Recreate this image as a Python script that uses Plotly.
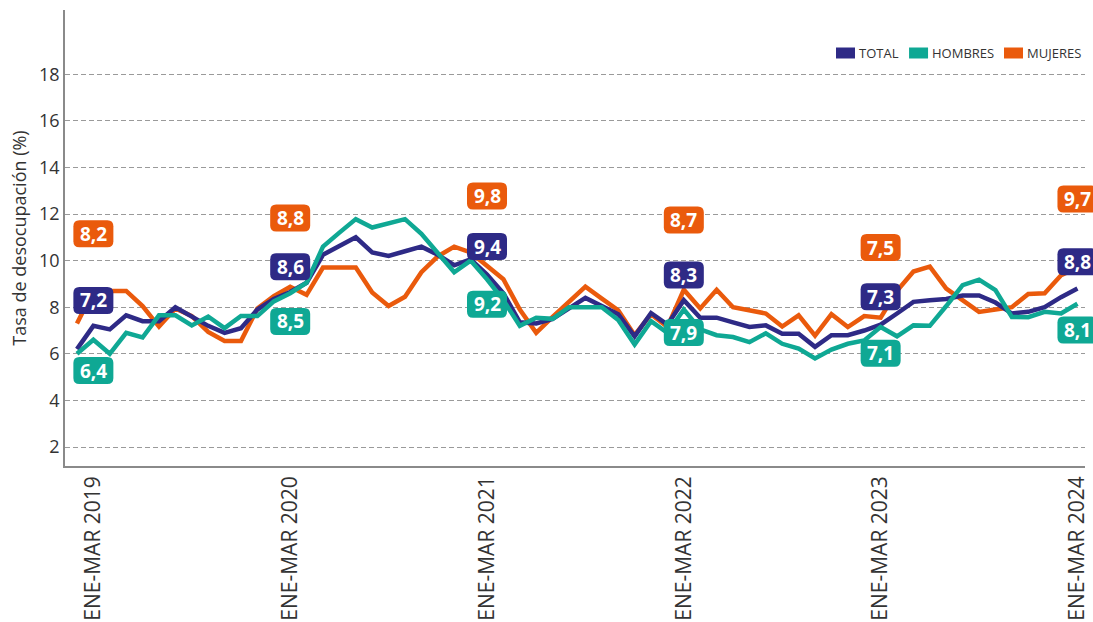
import plotly.graph_objects as go

# ---------------- data ----------------
months = ["ENE", "FEB", "MAR", "ABR", "MAY", "JUN", "JUL", "AGO", "SEP", "OCT", "NOV", "DIC"]
periods = []
for k in range(62):
    m = (k - 1) % 12
    yr = 2019 + (k - 1 + 2) // 12 if k > 0 else 2019
    periods.append(f"{months[m]}-{months[(m + 2) % 12]} {yr}")
periods[0] = "DIC-FEB 2019"

total = [6.2, 7.2, 7.05, 7.65, 7.4, 7.4, 8.0, 7.6, 7.2, 6.9, 7.1, 7.9, 8.35, 8.65,
         9.05, 10.25, 10.6, 11.0, 10.35, 10.2, 10.4, 10.6, 10.25, 9.8, 10.05, 9.4,
         8.6, 7.35, 7.3, 7.5, 7.95, 8.4, 8.05, 7.7, 6.75, 7.75, 7.25, 8.3,
         7.55, 7.55, 7.35, 7.15, 7.22, 6.86, 6.86, 6.3, 6.8, 6.8, 7.0, 7.25,
         7.73, 8.23, 8.3, 8.35, 8.5, 8.5, 8.2, 7.73, 7.8, 8.0, 8.43, 8.8]
hombres = [6.0, 6.6, 6.0, 6.9, 6.7, 7.65, 7.65, 7.22, 7.6, 7.1, 7.62, 7.62, 8.25, 8.6,
           9.05, 10.6, 11.2, 11.78, 11.42, 11.6, 11.78, 11.15, 10.35, 9.5, 10.0, 9.2,
           8.3, 7.2, 7.55, 7.5, 8.0, 8.0, 8.0, 7.45, 6.4, 7.4, 6.9, 7.9,
           7.05, 6.8, 6.72, 6.5, 6.88, 6.43, 6.22, 5.8, 6.18, 6.43, 6.57, 7.15,
           6.75, 7.22, 7.2, 8.05, 8.95, 9.18, 8.73, 7.58, 7.57, 7.8, 7.73, 8.15]
mujeres = [7.3, 8.7, 8.7, 8.7, 8.05, 7.17, 7.95, 7.62, 6.94, 6.55, 6.55, 7.95, 8.48, 8.88,
           8.53, 9.7, 9.7, 9.7, 8.63, 8.05, 8.45, 9.5, 10.18, 10.6, 10.35, 9.8,
           9.2, 7.9, 6.9, 7.58, 8.23, 8.88, 8.37, 7.87, 6.8, 7.7, 7.15, 8.75,
           7.95, 8.75, 8.0, 7.87, 7.73, 7.17, 7.65, 6.78, 7.7, 7.15, 7.62, 7.55,
           8.7, 9.53, 9.74, 8.8, 8.3, 7.8, 7.9, 8.0, 8.57, 8.6, 9.37, 9.7]

tick_idx = [1, 13, 25, 37, 49, 61]
tick_text = [periods[i] for i in tick_idx]

label_total = [7.2, 8.6, 9.4, 8.3, 7.3, 8.8]
label_hombres = [6.4, 8.5, 9.2, 7.9, 7.1, 8.1]
label_mujeres = [8.2, 8.8, 9.8, 8.7, 7.5, 9.7]

series_names = ["TOTAL", "HOMBRES", "MUJERES"]

# ---------------- style / layout ----------------
C_TOTAL = "#2e2a86"
C_HOM = "#0fa894"
C_MUJ = "#ea5a0c"
COLORS = {"TOTAL": C_TOTAL, "HOMBRES": C_HOM, "MUJERES": C_MUJ}
FONT = "Open Sans"
XR = [-0.73, 61.46]
YR = [1.185, 20.755]

# vertical placement of value boxes (axis units)
pos_total = [8.29, 9.74, 10.6, 9.38, 8.45, 9.95]
pos_hom = [5.28, 7.39, 8.13, 6.91, 6.02, 7.02]
pos_muj = [11.15, 11.83, 12.77, 11.74, 10.56, 12.64]

# legend placement (paper coords): swatch left edges, vertical centre
leg_x = [0.7559, 0.8275, 0.9206]
leg_y = 0.9057

x = list(range(len(periods)))

fig = go.Figure()
for name, vals in [("MUJERES", mujeres), ("TOTAL", total), ("HOMBRES", hombres)]:
    fig.add_trace(go.Scatter(x=x, y=vals, mode="lines", name=name, text=periods,
                             line=dict(color=COLORS[name], width=4.5), showlegend=False))

W, H = 40, 27
r = 6
hw, hh = W / 2, H / 2
box_path = (f"M {-hw + r},{hh} L {hw - r},{hh} Q {hw},{hh} {hw},{hh - r} L {hw},{-hh + r} "
            f"Q {hw},{-hh} {hw - r},{-hh} L {-hw + r},{-hh} Q {-hw},{-hh} {-hw},{-hh + r} "
            f"L {-hw},{hh - r} Q {-hw},{hh} {-hw + r},{hh} Z")

shapes = []
annotations = []
for labels, poss, col in [(label_mujeres, pos_muj, C_MUJ), (label_total, pos_total, C_TOTAL),
                          (label_hombres, pos_hom, C_HOM)]:
    for i, v, p in zip(tick_idx, labels, poss):
        px = (i - XR[0]) / (XR[1] - XR[0])
        py = (p - YR[0]) / (YR[1] - YR[0])
        shapes.append(dict(type="path", xref="paper", yref="paper", xsizemode="pixel", ysizemode="pixel",
                           xanchor=px, yanchor=py, path=box_path, fillcolor=col,
                           line=dict(width=0), layer="above"))
        annotations.append(dict(x=i, y=p, xref="x", yref="y", text=f"{v:.1f}".replace(".", ","),
                                showarrow=False, xanchor="center", yanchor="middle",
                                font=dict(family=FONT, size=19, color="white", weight="bold")))

# legend (drawn as swatches + text)
for name, lx in zip(series_names, leg_x):
    shapes.append(dict(type="rect", xref="paper", yref="paper", xsizemode="pixel", ysizemode="pixel",
                       xanchor=lx, yanchor=leg_y, x0=0, x1=19, y0=-5.5, y1=5.5,
                       fillcolor=COLORS[name], line=dict(width=0), layer="above"))
    annotations.append(dict(x=lx, y=leg_y, xref="paper", yref="paper", text=name, showarrow=False,
                            xanchor="left", yanchor="middle", xshift=21,
                            font=dict(family=FONT, size=13, color="#333333")))

fig.update_layout(
    width=1093, height=622,
    margin=dict(l=65, r=8, t=10, b=156, autoexpand=False),
    paper_bgcolor="white", plot_bgcolor="white",
    font=dict(family=FONT, color="#333333"),
    shapes=shapes, annotations=annotations,
    showlegend=False,
)
fig.update_xaxes(range=XR, tickmode="array", tickvals=tick_idx, ticktext=tick_text, tickangle=-90,
                 showgrid=False, zeroline=False, showline=True, linecolor="#8a8a8a", linewidth=1.5,
                 ticks="", tickfont=dict(size=21, color="#333333"), automargin=False)
fig.update_yaxes(range=YR, tickmode="array", tickvals=[2, 4, 6, 8, 10, 12, 14, 16, 18],
                 showgrid=True, gridcolor="#9a9a9a", gridwidth=1.3, griddash="5px,3px",
                 zeroline=False, showline=True, linecolor="#8a8a8a", linewidth=1.5, ticks="",
                 tickfont=dict(size=18, color="#333333"), automargin=False,
                 title=dict(text="Tasa de desocupación (%)", font=dict(size=18, color="#333333"), standoff=8))

fig.write_html("out.html", config={"displayModeBar": False},
               post_script="document.body.style.margin='0px';document.body.style.overflow='hidden';")
